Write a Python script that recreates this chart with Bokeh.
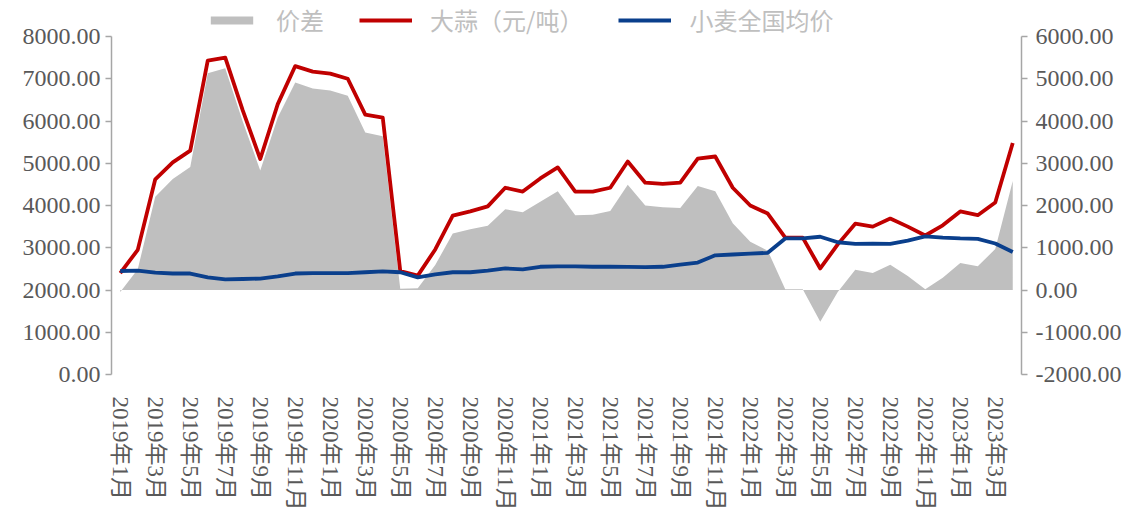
from bokeh.plotting import figure
from bokeh.models import (Range1d, LinearAxis, FixedTicker, NumeralTickFormatter,
                          Legend, LegendItem)
from bokeh.embed import file_html
from bokeh.resources import INLINE

# ---------------- data ----------------
month_index = list(range(52))  # 2019-01 .. 2023-04
tick_labels = ["2019年1月", "2019年3月", "2019年5月", "2019年7月", "2019年9月", "2019年11月",
               "2020年1月", "2020年3月", "2020年5月", "2020年7月", "2020年9月", "2020年11月",
               "2021年1月", "2021年3月", "2021年5月", "2021年7月", "2021年9月", "2021年11月",
               "2022年1月", "2022年3月", "2022年5月", "2022年7月", "2022年9月", "2022年11月",
               "2023年1月", "2023年3月"]

garlic = [2400, 2950, 4620, 5020, 5300, 7430, 7500, 6250, 5100, 6400,
          7300, 7170, 7120, 7000, 6150, 6080, 2450, 2340, 2960, 3760,
          3860, 3980, 4420, 4330, 4640, 4900, 4330, 4330, 4420, 5040,
          4540, 4510, 4540, 5110, 5160, 4420, 4000, 3810, 3240, 3240,
          2510, 3080, 3570, 3500, 3690, 3500, 3290, 3530, 3860, 3770,
          4070, 5480]

wheat = [2450, 2460, 2410, 2390, 2390, 2300, 2250, 2260, 2270, 2320,
         2390, 2400, 2400, 2400, 2420, 2440, 2420, 2300, 2370, 2420,
         2420, 2460, 2510, 2490, 2550, 2560, 2560, 2550, 2550, 2545,
         2540, 2550, 2600, 2650, 2820, 2840, 2860, 2880, 3220, 3220,
         3260, 3130, 3090, 3100, 3090, 3170, 3270, 3240, 3220, 3210,
         3100, 2900]

spread = [-50, 490, 2210, 2630, 2910, 5130, 5250, 3990, 2830, 4080,
          4910, 4770, 4720, 4600, 3730, 3640, 30, 40, 590, 1340,
          1440, 1520, 1910, 1840, 2090, 2340, 1770, 1780, 1870, 2490,
          2000, 1960, 1940, 2460, 2340, 1580, 1140, 930, 20, 20,
          -750, -50, 480, 400, 600, 330, 20, 290, 640, 560,
          970, 2580]

series_names = ["价差", "大蒜（元/吨）", "小麦全国均价"]
left_ticks = [0, 1000, 2000, 3000, 4000, 5000, 6000, 7000, 8000]
right_ticks = [-2000, -1000, 0, 1000, 2000, 3000, 4000, 5000, 6000]

# ---------------- styles ----------------
LABEL_FONT = "Liberation Serif, Noto Sans CJK SC"
LABEL_COLOR = "#595959"
AXIS_COLOR = "#A6A6A6"
GRAY = "#BFBFBF"
RED = "#C00000"
BLUE = "#0A3F8C"
LW = 3.8

# frame: 338 px for the 8000-unit axis span, plus 36 px of head-room
# above it that holds the legend
FRAME_H = 374
PX_PER_UNIT = 338 / 8000
top_value = FRAME_H / PX_PER_UNIT

p = figure(frame_width=910, frame_height=FRAME_H, output_backend="svg",
           toolbar_location=None,
           x_range=Range1d(-0.5, 51.5), y_range=Range1d(0, top_value),
           min_border_left=111, min_border_right=100, min_border_top=0,
           min_border_bottom=126, title=None)
p.extra_y_ranges = {"right": Range1d(-2000, top_value - 2000)}
p.outline_line_color = None
p.xgrid.visible = False
p.ygrid.visible = False

r_gray = p.varea(x=month_index, y1=0, y2=spread, y_range_name="right",
                 fill_color=GRAY)
r_red = p.line(month_index, garlic, line_color=RED, line_width=LW,
               line_join="round")
r_blue = p.line(month_index, wheat, line_color=BLUE, line_width=LW,
                line_join="round")

# x axis
xa = p.xaxis[0]
tick_pos = list(range(0, 52, 2))
xa.ticker = FixedTicker(ticks=tick_pos)
xa.major_label_overrides = {t: lbl for t, lbl in zip(tick_pos, tick_labels)}
xa.major_label_orientation = "vertical"
xa.axis_line_color = None
xa.major_tick_line_color = None
xa.minor_tick_line_color = None
xa.major_label_standoff = 16
xa.major_label_text_font = LABEL_FONT
xa.major_label_text_font_size = "23px"
xa.major_label_text_color = LABEL_COLOR


def style_y(ax, standoff):
    ax.axis_line_color = AXIS_COLOR
    ax.axis_line_width = 1.5
    ax.major_tick_line_color = AXIS_COLOR
    ax.major_tick_line_width = 1.5
    ax.major_tick_out = 6
    ax.major_tick_in = 0
    ax.minor_tick_line_color = None
    ax.major_label_text_font = LABEL_FONT
    ax.major_label_text_font_size = "24px"
    ax.major_label_text_color = LABEL_COLOR
    ax.major_label_standoff = standoff
    ax.formatter = NumeralTickFormatter(format="0.00")


ya = p.yaxis[0]
ya.ticker = FixedTicker(ticks=left_ticks)
ya.bounds = (left_ticks[0], left_ticks[-1])
style_y(ya, 5)

ra = LinearAxis(y_range_name="right", ticker=FixedTicker(ticks=right_ticks),
                bounds=(right_ticks[0], right_ticks[-1]))
style_y(ra, 8)
p.add_layout(ra, "right")

legend = Legend(items=[LegendItem(label=series_names[0], renderers=[r_gray]),
                       LegendItem(label=series_names[1], renderers=[r_red]),
                       LegendItem(label=series_names[2], renderers=[r_blue])],
                orientation="horizontal", location=(94, FRAME_H - 37),
                glyph_width=53, glyph_height=10, label_standoff=18, spacing=35,
                padding=0, margin=0, border_line_color=None,
                background_fill_alpha=0, label_height=24,
                label_text_font="Noto Sans CJK SC", label_text_font_size="24px",
                label_text_color=GRAY)
p.add_layout(legend, "center")

open("out.html", "w").write(file_html(p, INLINE))
